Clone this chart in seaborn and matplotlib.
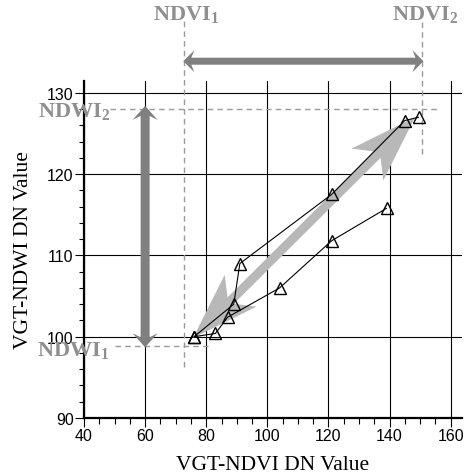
import numpy as np
import pandas as pd
import matplotlib
matplotlib.use("Agg")
import matplotlib.pyplot as plt
import seaborn as sns
from matplotlib.patches import Polygon
from matplotlib.transforms import IdentityTransform
from matplotlib.ticker import MultipleLocator

# ---- data ----
ndvi_a = [76, 89, 91, 121, 145, 149.5]
ndwi_a = [100, 104, 109, 117.5, 126.6, 127.0]
ndvi_b = [76, 83, 87, 104, 121, 139]
ndwi_b = [100, 100.4, 102.4, 106, 111.8, 115.8]

ndvi_1, ndvi_2 = 72.7, 150.5
ndwi_1, ndwi_2 = 98.8, 128.0

# annotation arrow endpoints (data coordinates)
diag_start, diag_end = (75.7, 99.85), (148.3, 127.0)
horiz_start, horiz_end = (72.5, 133.9), (151.1, 133.9)
vert_start, vert_end = (60, 98.7), (60, 128.4)

df = pd.DataFrame({
    "ndvi": ndvi_a + ndvi_b,
    "ndwi": ndwi_a + ndwi_b,
    "series": ["A"] * len(ndvi_a) + ["B"] * len(ndvi_b),
})

sns.set_theme(style="white")
plt.rcParams["font.family"] = ["Liberation Sans", "DejaVu Sans"]
plt.rcParams["mathtext.fontset"] = "custom"
plt.rcParams["mathtext.rm"] = "Liberation Serif:bold"

fig = plt.figure(figsize=(4.65, 4.77), dpi=100, facecolor="white")
ax = fig.add_axes([84 / 465, 58 / 477, (461.7 - 84) / 465, (419 - 81.7) / 477])
ax.set_facecolor("none")
ax.set_xlim(40, 163.6)
ax.set_ylim(90, 131.5)
ax.set_axisbelow(True)

sns.lineplot(data=df, x="ndvi", y="ndwi", units="series", estimator=None, sort=False,
             color="black", lw=0.8, marker="^", markersize=9, markerfacecolor="none",
             markeredgecolor="black", markeredgewidth=1.0, ax=ax, zorder=3)

ax.xaxis.set_major_locator(MultipleLocator(20))
ax.xaxis.set_minor_locator(MultipleLocator(5))
ax.yaxis.set_major_locator(MultipleLocator(10))
ax.yaxis.set_minor_locator(MultipleLocator(2))
ax.grid(True, which="major", color="black", lw=0.8)
ax.tick_params(axis="x", which="major", direction="out", length=6.5, width=0.8,
               pad=1, labelsize=11.5, colors="black")
ax.tick_params(axis="x", which="minor", direction="out", length=4, width=0.8, colors="black")
ax.tick_params(axis="y", which="major", direction="out", length=6.5, width=0.8,
               pad=1, labelsize=11.5, colors="black")
ax.tick_params(axis="y", which="minor", direction="out", length=3.5, width=0.8, colors="black")
ax.tick_params(bottom=True, left=True, which="both")
for s in ["top", "right"]:
    ax.spines[s].set_visible(False)
for s in ["left", "bottom"]:
    ax.spines[s].set_linewidth(1.6)
    ax.spines[s].set_color("black")

serif = ["Liberation Serif", "DejaVu Serif"]
ax.set_xlabel("VGT-NDVI DN Value", family=serif, fontsize=15.5, labelpad=8, color="black")
ax.set_ylabel("VGT-NDWI DN Value", family=serif, fontsize=15.5, labelpad=10, color="black")

# dashed reference lines
dash = dict(color="#9a9a9a", lw=1.0, ls=(0, (4, 3)), clip_on=False, zorder=1)
ax.plot([ndvi_1, ndvi_1], [96.3, 139.1], **dash)
ax.plot([ndvi_2, ndvi_2], [122.5, 138.8], **dash)
ax.plot([48.5, 155.5], [ndwi_2, ndwi_2], **dash)
ax.plot([50, 81.2], [ndwi_1, ndwi_1], **dash)


def barbed_arrow(p0, p1, shaft_w, head_len, head_w, notch, color, z):
    a = ax.transData.transform(p0)
    b = ax.transData.transform(p1)
    d = b - a
    u = d / np.hypot(*d)
    n = np.array([-u[1], u[0]])
    pts = [
        a,
        a + u * head_len + n * head_w / 2,
        a + u * (head_len - notch) + n * shaft_w / 2,
        b - u * (head_len - notch) + n * shaft_w / 2,
        b - u * head_len + n * head_w / 2,
        b,
        b - u * head_len - n * head_w / 2,
        b - u * (head_len - notch) - n * shaft_w / 2,
        a + u * (head_len - notch) - n * shaft_w / 2,
        a + u * head_len - n * head_w / 2,
    ]
    poly = Polygon(pts, closed=True, transform=IdentityTransform(), facecolor=color,
                   edgecolor="none", zorder=z, clip_on=False)
    ax.add_artist(poly)


barbed_arrow(diag_start, diag_end, 9, 67, 45, 14, "#b8b8b8", 1.5)
barbed_arrow(horiz_start, horiz_end, 7, 11, 22, 3, "#808080", 1.5)
barbed_arrow(vert_start, vert_end, 9, 14, 25, 4, "#808080", 1.5)

tkw = dict(family=serif, fontsize=16, fontweight="bold", color="#8f8f8f",
           ha="center", va="baseline", clip_on=False)
ax.text(73.3, 139.1, r"NDVI$_{1}$", **tkw)
ax.text(151.6, 139.1, r"NDVI$_{2}$", **tkw)
ax.text(36.7, 127.1, r"NDWI$_{2}$", **tkw)
ax.text(36.4, 97.75, r"NDWI$_{1}$", **tkw)

fig.savefig("out.png", dpi=100)
